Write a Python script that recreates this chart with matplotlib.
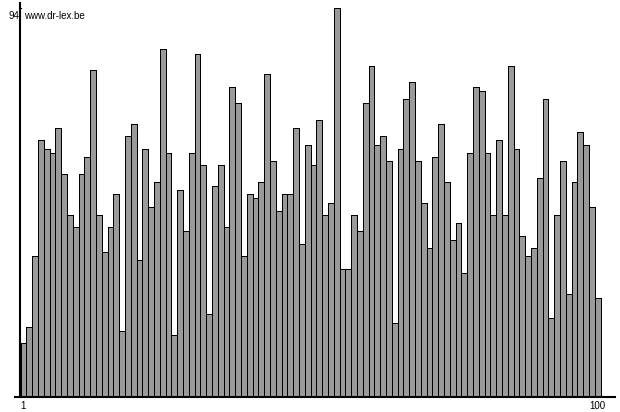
import matplotlib
matplotlib.use("Agg")
import matplotlib.pyplot as plt

# bar heights (items 1..100)
items = list(range(1, 101))
values = [13, 17, 34, 62, 60, 59, 65, 54, 44, 41,
          54, 58, 79, 44, 35, 41, 49, 16, 63, 66,
          33, 60, 46, 52, 84, 59, 15, 50, 40, 59,
          83, 56, 20, 51, 56, 41, 75, 71, 34, 49,
          48, 52, 78, 57, 45, 49, 49, 65, 37, 61,
          56, 67, 44, 47, 94, 31, 31, 44, 40, 71,
          80, 61, 63, 57, 18, 60, 72, 76, 57, 47,
          36, 58, 66, 52, 38, 42, 30, 59, 75, 74,
          59, 44, 62, 44, 80, 60, 39, 34, 36, 53,
          72, 19, 44, 57, 25, 52, 64, 61, 46, 24]
ymax_label = "94"
site = "www.dr-lex.be"

W, H = 620, 412
fig = plt.figure(figsize=(W / 100, H / 100), dpi=100)
fig.patch.set_facecolor("white")

# axes from x=15..615 px, y=3..397 px
ax = fig.add_axes([15 / W, 15 / H, 600 / W, 394 / H])
px_per_unit = 5.8
x0 = 0.5 - 5.5 / px_per_unit
x1 = 0.5 + 594.5 / px_per_unit
ax.set_xlim(x0, x1)
ax.set_ylim(0, 394 / (389 / 94))

ax.bar(items, values, width=1.0, color="#9a9a9a", edgecolor="black",
       linewidth=0.72, antialiased=False)

for s in ["top", "right"]:
    ax.spines[s].set_visible(False)
ax.spines["left"].set_position(("data", 0.5 - 0.5 / px_per_unit))
ax.spines["left"].set_linewidth(1.5)
ax.spines["bottom"].set_linewidth(1.5)

ax.set_xticks([1, 100])
ax.set_xticklabels(["1", "100"], fontsize=7, family="Liberation Sans")
ax.tick_params(axis="x", length=0, pad=3)
ax.set_yticks([])

ax.plot([0.5 - 2 / px_per_unit, 0.5], [93.9, 93.9], color="black", lw=0.8,
        clip_on=False)
ax.annotate(ymax_label, xy=(0.5 - 1.5 / px_per_unit, 94), xycoords="data",
            xytext=(0, -8), textcoords="offset pixels", ha="right", va="center",
            fontsize=7, family="Liberation Sans", annotation_clip=False)
ax.annotate(site, xy=(0.5, 94), xycoords="data",
            xytext=(4, -8), textcoords="offset pixels", ha="left", va="center",
            fontsize=7, family="Liberation Sans", annotation_clip=False)

plt.savefig("out.png", dpi=100)
